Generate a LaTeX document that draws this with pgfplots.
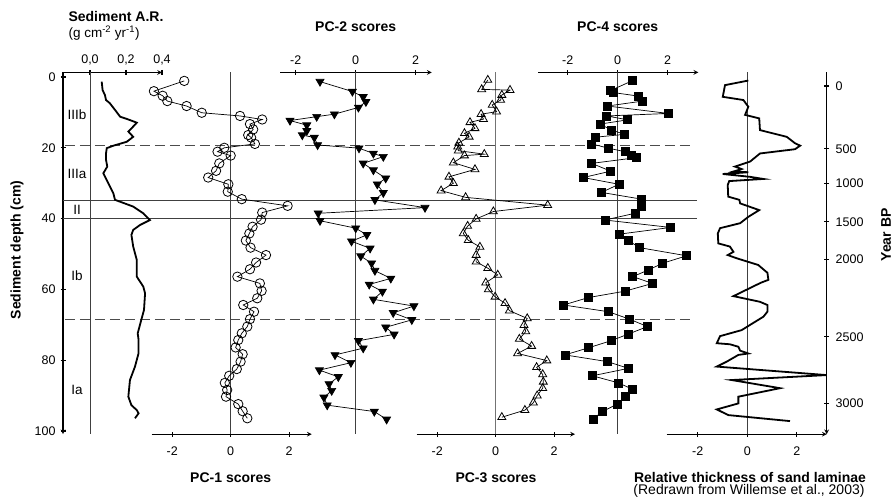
\documentclass[border=0pt]{standalone}
\usepackage{fontspec}
\setmainfont{Liberation Sans}
\setsansfont{Liberation Sans}
\usepackage{pgfplots}
\pgfplotsset{compat=1.18}
\tikzset{
  pcline/.style={black, line width=0.7pt},
  zeroline/.style={black!75, line width=0.6pt},
}
\begin{document}
\begin{tikzpicture}[x=1pt,y=1pt]
\useasboundingbox (0pt,0pt) rectangle (892pt,498pt);
\pgfplotsset{
  panel/.style={scale only axis, height=361.8pt, ymin=-1.3, ymax=100.9, y dir=reverse,
    anchor=center, clip=false,
    axis line style={-, line width=1.1pt},
    tick align=outside, major tick length=5pt,
    tick style={line width=1.1pt, black},
    tick label style={font=\fontsize{12.5}{14}\selectfont},
  },
  toppanel/.style={panel, axis x line=top, axis y line=none, ytick=\empty,
    xtick={-2,0,2}, xticklabels={-2,0,2}, xticklabel style={yshift=2pt}},
  botpanel/.style={panel, axis x line=bottom, axis y line=none, ytick=\empty,
    xtick={-2,0,2}, xticklabels={-2,0,2}, xticklabel style={yshift=-7pt}},
}
% ---------- Sediment A.R.  (63 -> 162)
\begin{axis}[panel, at={(112.5pt,244.7pt)}, width=99pt, xmin=-0.15, xmax=0.4,
  axis x line=top, axis y line=left,
  xtick={0,0.2,0.4}, xticklabels={{0,0},{0,2},{0,4}}, xticklabel style={yshift=1pt},
  ytick={0,20,40,60,80,100}, yticklabels={0,20,40,60,80,100}, yticklabel style={xshift=-1.5pt}]
\draw[black!70, line width=0.8pt, dash pattern=on 10pt off 5pt] (axis cs:-0.14,19.4) -- (axis cs:3.333,19.4);
\draw[black!70, line width=0.8pt, dash pattern=on 10pt off 5pt] (axis cs:-0.14,68.4) -- (axis cs:3.333,68.4);
\draw[black!75, line width=0.6pt] (axis cs:-0.15,34.7) -- (axis cs:3.37,34.7);
\draw[black!75, line width=0.6pt] (axis cs:-0.15,39.9) -- (axis cs:3.37,39.9);
\draw[zeroline] (axis cs:0,-1.3) -- (axis cs:0,100.9);
\addplot[black, line width=1.8pt] coordinates {
(0.065,1.3) (0.07,3.7) (0.083,5.1) (0.089,6.5) (0.11,7.4) (0.139,9.3) (0.167,11.2) (0.213,12) (0.26,12.9) (0.24,14) (0.213,15.4) (0.24,16.9) (0.204,18.3) (0.13,19.4) (0.093,20.1) (0.089,21.6) (0.089,23.4) (0.096,25.3) (0.074,27.2) (0.093,29.1) (0.13,32.9) (0.139,34.7) (0.24,36.6) (0.296,38.5) (0.333,40.4) (0.278,41.8) (0.24,43.2) (0.23,44.6) (0.24,47.9) (0.26,51.7) (0.26,56.4) (0.296,59.2) (0.306,61.1) (0.3,65.8) (0.285,68.6) (0.265,72.4) (0.27,74.3) (0.27,78) (0.25,81.8) (0.222,85.6) (0.213,90.3) (0.23,92.7) (0.26,94.1) (0.27,95) (0.25,96.4)};
\node[font=\fontsize{13.5}{15}\selectfont] at (axis cs:-0.072,10.7) {IIIb};
\node[font=\fontsize{13.5}{15}\selectfont] at (axis cs:-0.072,27.4) {IIIa};
\node[font=\fontsize{13.5}{15}\selectfont] at (axis cs:-0.072,37.4) {II};
\node[font=\fontsize{13.5}{15}\selectfont] at (axis cs:-0.072,56) {Ib};
\node[font=\fontsize{13.5}{15}\selectfont] at (axis cs:-0.072,88.4) {Ia};
\end{axis}
% ---------- PC-1 (151.7 -> 311.7)
\begin{axis}[botpanel, at={(231.7pt,244.7pt)}, width=160pt, xmin=-2.705, xmax=2.775]
\draw[zeroline] (axis cs:0,-1.3) -- (axis cs:0,100.9);
\addplot[pcline, mark=o, mark size=4.7pt, mark options={fill=white, line width=0.8pt}] coordinates {
(-1.59,1.1) (-2.63,4.0) (-2.33,5.3) (-2.17,6.8) (-1.51,8.2) (-0.99,10.1) (0.32,11.0) (1.08,12.0) (0.66,13.3) (0.77,14.8) (0.6,16.4) (0.7,17.1) (0.83,18.9) (-0.22,20.0) (-0.45,21.1) (0.0,22.2) (-0.39,24.4) (-0.5,26.5) (-0.77,28.4) (-0.08,30.3) (-0.1,32.4) (0.38,34.5) (1.95,36.4) (1.08,38.3) (1.04,40.3) (0.75,42.3) (0.64,44.2) (0.52,46.2) (0.68,48.2) (1.21,50.3) (0.87,52.4) (0.66,54.3) (0.23,56.4) (1.0,58.3) (1.06,60.4) (0.91,62.5) (0.43,64.4) (0.8,66.3) (0.66,68.4) (0.57,70.5) (0.38,72.4) (0.26,74.3) (0.17,76.4) (0.41,78.3) (0.34,80.4) (0.21,82.5) (-0.05,84.4) (-0.2,86.4) (-0.12,88.4) (-0.16,90.3) (0.26,92.4) (0.41,94.4) (0.57,96.4)};
\end{axis}
% ---------- PC-2 (280 -> 431.7)
\begin{axis}[toppanel, at={(355.85pt,244.7pt)}, width=151.7pt, xmin=-2.523, xmax=2.533]
\draw[zeroline] (axis cs:0,-1.3) -- (axis cs:0,100.9);
\addplot[pcline, mark=triangle*, mark size=4.6pt, mark options={rotate=180, fill=black}] coordinates {
(-1.19,1.3) (-0.11,4.1) (0.25,5.6) (0.34,7.0) (0.09,8.6) (-0.71,10.5) (-1.3,11.2) (-2.19,12.3) (-1.63,13.6) (-1.63,15.2) (-1.78,16.4) (-1.38,17.1) (-1.27,19.2) (0.11,20.1) (0.59,21.6) (0.92,22.5) (0.25,24.4) (0.59,26.3) (1.0,28.6) (0.72,30.3) (0.92,32.7) (0.64,34.7) (2.31,36.9) (-1.25,38.5) (-1.19,40.6) (0.0,42.7) (0.37,44.6) (-0.14,46.4) (0.48,48.4) (0.17,50.6) (0.53,52.6) (0.64,54.7) (1.17,56.9) (0.45,58.6) (0.89,60.6) (0.59,62.8) (1.94,64.7) (1.25,66.6) (1.87,68.6) (1.0,70.7) (1.28,72.7) (0.09,74.5) (0.25,76.6) (-0.69,78.5) (-0.16,80.7) (-1.21,82.8) (-0.58,84.7) (-0.89,86.7) (-0.8,88.6) (-1.06,90.5) (-0.95,92.7) (0.62,94.5) (1.03,96.7)};
\end{axis}
% ---------- PC-3 (416.7 -> 575)
\begin{axis}[botpanel, at={(495.85pt,244.7pt)}, width=158.3pt, xmin=-2.705, xmax=2.716]
\draw[zeroline, black!55] (axis cs:0,-1.3) -- (axis cs:0,100.9);
\addplot[pcline, mark=triangle, mark size=4.6pt, mark options={fill=white, line width=0.8pt}] coordinates {
(-0.27,0.85) (-0.48,3.5) (0.49,3.7) (0.21,5.1) (0.17,6.5) (-0.12,7.9) (0.03,9.8) (-0.5,10.5) (-0.42,11.9) (-0.88,12.8) (-0.71,14.5) (-1.07,15.9) (-0.91,16.9) (-1.26,18.6) (-1.3,19.7) (-1.28,20.8) (-0.39,21.8) (-1.07,22.2) (-1.45,24.2) (-0.71,26.1) (-1.6,28.2) (-1.45,30.0) (-1.87,32.1) (-1.03,34.0) (1.78,36.2) (-0.08,38.0) (-0.67,40.1) (-0.96,42.1) (-1.11,44.2) (-0.94,46.1) (-0.54,48.0) (-0.67,50.3) (-0.67,52.2) (-0.27,54.0) (0.07,55.9) (-0.34,58.1) (-0.25,60.0) (-0.02,62.1) (0.32,63.9) (0.47,66.0) (1.08,68.2) (0.97,70.1) (1.03,71.9) (0.81,74.0) (1.23,76.0) (0.75,78.1) (1.75,80.1) (1.4,82.0) (1.61,84.0) (1.63,86.1) (1.61,87.9) (1.42,90.0) (1.29,92.0) (1.0,94.1) (0.21,96.1)};
\end{axis}
% ---------- PC-4 (538.3 -> 698.3)
\begin{axis}[toppanel, at={(618.3pt,244.7pt)}, width=160pt, xmin=-3.176, xmax=3.224]
\draw[zeroline] (axis cs:0,-1.3) -- (axis cs:0,100.9);
\addplot[pcline, mark=square*, mark size=4pt, mark options={fill=black}] coordinates {
(0.6,1.0) (-0.31,3.9) (-0.17,4.4) (0.83,5.4) (1.0,6.8) (-0.41,8.2) (2.03,10.3) (-0.44,11.0) (0.4,12.1) (-0.71,13.3) (-0.24,15.0) (0.27,16.2) (-0.88,17.0) (-1.04,18.9) (-0.37,20.1) (0.29,21.1) (0.53,22.2) (0.73,22.8) (-1.04,24.4) (-0.28,26.6) (-1.38,28.4) (0.05,30.3) (-0.65,32.6) (0.95,34.5) (0.95,36.4) (0.69,38.5) (-0.51,40.4) (2.12,42.5) (0.05,44.4) (0.43,46.2) (0.87,48.2) (2.76,50.5) (1.8,52.6) (1.23,54.5) (0.6,56.4) (1.4,58.3) (0.29,60.5) (-1.17,62.3) (-2.17,64.4) (-0.37,66.3) (0.47,68.4) (1.19,70.5) (0.43,72.6) (-0.27,74.5) (-1.17,76.5) (-2.11,78.5) (-0.41,80.4) (0.43,82.3) (-1.01,84.4) (0.03,86.4) (0.59,88.2) (0.29,90.3) (-0.02,92.4) (-0.61,94.5) (-0.99,96.6)};
\end{axis}
% ---------- Sand laminae (666.7 -> 826.7)
\begin{axis}[panel, at={(746.7pt,244.7pt)}, width=160pt, xmin=-3.25, xmax=3.2, clip=true,
  axis x line=bottom, axis y line=right,
  xtick={-2,0,2}, xticklabels={-2,0,2}, xticklabel style={yshift=-7pt},
  ytick={2.54,20.3,30.0,40.9,51.5,73.4,92.2}, yticklabels={0,500,1000,1500,2000,2500,3000},
  yticklabel style={xshift=3pt}]
\draw[zeroline] (axis cs:0,-1.3) -- (axis cs:0,100.9);
\addplot[black, line width=1.8pt] coordinates {
(0.04,1.0) (-0.9,2.3) (-0.99,5.6) (-0.16,6.5) (0.04,8.4) (-0.09,10.7) (0.48,11.7) (0.51,15.0) (1.59,16.9) (1.92,18.7) (2.13,19.4) (1.92,20.4) (0.51,21.6) (0.11,23.9) (-0.5,25.3) (-0.23,26.0) (-0.56,26.7) (0.04,26.9) (-0.99,27.4) (0.11,28.2) (0.65,28.8) (-0.73,29.4) (-0.79,30.5) (-0.77,33.8) (-0.32,34.7) (-0.29,35.7) (0.48,37.6) (0.04,39.5) (-0.29,41.3) (-1.1,42.7) (-1.19,44.2) (-1.17,47.0) (-0.7,47.9) (-0.56,49.4) (-0.79,50.3) (-0.43,51.2) (0.44,53.1) (0.81,55.3) (0.85,57.3) (0.55,58.1) (-0.56,61.9) (0.51,63.5) (0.81,64.4) (0.81,66.3) (0.65,67.7) (-0.23,71.5) (-1.1,73.2) (-1.23,75.2) (-0.7,75.5) (-0.36,76.2) (-0.29,77.3) (0.04,78.1) (-0.36,78.5) (-0.83,80.4) (-1.23,81.8) (3.2,84.2) (-0.63,85.6) (1.32,87.9) (-0.36,90.3) (-0.36,92.2) (-1.23,93.9) (-0.77,95.5) (1.72,97.2)};
\end{axis}
% ---------- titles
\node[anchor=west, font=\bfseries\fontsize{14}{16}\selectfont] at (65pt,481pt) {Sediment A.R.};
\node[anchor=west, font=\fontsize{13.5}{15}\selectfont] at (65pt,465pt) {(g cm\textsuperscript{-2} yr\textsuperscript{-1})};
\node[font=\bfseries\fontsize{14}{16}\selectfont] at (355.7pt,471pt) {PC-2 scores};
\node[font=\bfseries\fontsize{14}{16}\selectfont] at (617.7pt,471pt) {PC-4 scores};
\node[font=\bfseries\fontsize{14}{16}\selectfont] at (230.7pt,20pt) {PC-1 scores};
\node[font=\bfseries\fontsize{14}{16}\selectfont] at (496pt,20pt) {PC-3 scores};
\node[font=\bfseries\fontsize{14}{16}\selectfont] at (750pt,21pt) {Relative thickness of sand laminae};
\node[font=\fontsize{14}{16}\selectfont] at (749pt,7pt) {(Redrawn from Willemse et al., 2003)};
\node[rotate=90, font=\bfseries\fontsize{14}{16}\selectfont] at (17pt,248pt) {Sediment depth (cm)};
\node[rotate=90, font=\bfseries\fontsize{14}{16}\selectfont] at (886pt,263pt) {Year BP};
\end{tikzpicture}
\end{document}
